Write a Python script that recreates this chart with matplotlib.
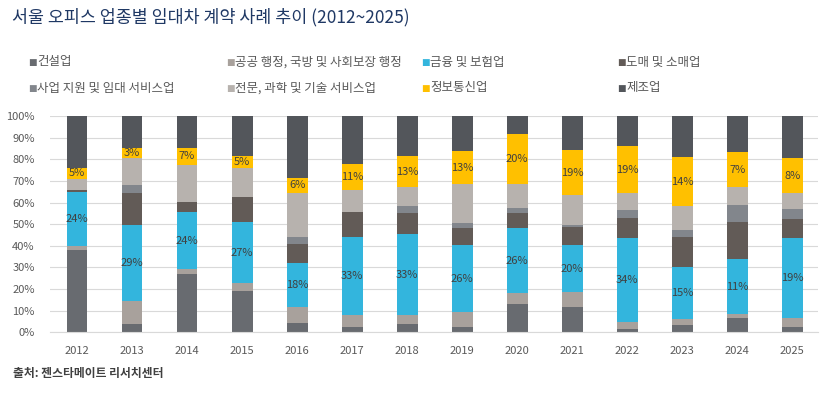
import numpy as np
import matplotlib
matplotlib.use("Agg")
import matplotlib.pyplot as plt

plt.rcParams['font.family'] = ['Noto Sans CJK KR', 'DejaVu Sans']

# Data (share of lease contracts by industry, %)
years = ['2012', '2013', '2014', '2015', '2016', '2017', '2018',
         '2019', '2020', '2021', '2022', '2023', '2024', '2025']
construction = [38.0, 3.7, 26.9, 19.0, 4.2, 2.3, 3.7, 2.3, 13.0, 11.6, 1.4, 3.2, 6.5, 2.3]
public_admin = [1.8, 10.7, 2.3, 3.7, 7.4, 5.6, 4.2, 7.0, 4.9, 6.9, 3.2, 2.8, 1.8, 4.2]
finance = [25.2, 35.1, 26.4, 28.2, 20.3, 36.1, 37.5, 31.0, 30.2, 21.8, 38.9, 24.1, 25.5, 37.0]
retail = [0.9, 14.9, 4.6, 11.6, 8.8, 11.6, 9.7, 7.8, 7.0, 8.3, 9.3, 13.9, 17.1, 8.8]
business_support = [0.0, 3.7, 0.0, 0.0, 3.3, 0.0, 3.2, 2.4, 2.3, 0.9, 3.7, 3.2, 7.9, 4.6]
professional = [5.2, 12.6, 17.4, 13.6, 20.4, 10.3, 8.8, 17.9, 11.0, 13.9, 7.9, 11.1, 8.3, 7.5]
ict = [5.0, 4.6, 7.7, 5.4, 7.1, 11.9, 14.4, 15.4, 23.3, 20.9, 21.7, 22.7, 16.2, 16.2]
manufacturing = [23.9, 14.7, 14.7, 18.5, 28.5, 22.2, 18.5, 16.2, 8.3, 15.7, 13.9, 19.0, 16.7, 19.4]

# labels printed on the chart
finance_labels = [24, 29, 24, 27, 18, 33, 33, 26, 26, 20, 34, 15, 11, 19]
ict_labels = [5, 3, 7, 5, 6, 11, 13, 13, 20, 19, 19, 14, 7, 8]

names = ['건설업', '공공 행정, 국방 및 사회보장 행정', '금융 및 보험업', '도매 및 소매업',
         '사업 지원 및 임대 서비스업', '전문, 과학 및 기술 서비스업', '정보통신업', '제조업']
series = [construction, public_admin, finance, retail,
          business_support, professional, ict, manufacturing]
colors = ['#686b70', '#a8a19c', '#33b5dd', '#625b57',
          '#82868c', '#b7b2ae', '#ffc000', '#53565b']

fig = plt.figure(figsize=(8.35, 3.94), dpi=100)
ax = fig.add_axes([0.0599, 0.157, 0.920, 0.548])

x = np.arange(len(years))
bottom = np.zeros(len(years))
mids = {}
for name, vals, c in zip(names, series, colors):
    vals = np.array(vals)
    ax.bar(x, vals, 0.38, bottom=bottom, color=c, zorder=2)
    mids[name] = bottom + vals / 2
    bottom = bottom + vals

# percentage labels for finance and ICT segments
for i in range(len(years)):
    ax.text(x[i], mids['금융 및 보험업'][i], f'{finance_labels[i]}%', ha='center',
            va='center', fontsize=8, color='#404040', zorder=3)
    ax.text(x[i], mids['정보통신업'][i], f'{ict_labels[i]}%', ha='center',
            va='center', fontsize=8, color='#404040', zorder=3)

ax.set_xlim(-0.49, 13.47)
ax.set_ylim(0, 100)
ax.set_yticks(np.arange(0, 101, 10))
ax.set_yticklabels([f'{v}%' for v in range(0, 101, 10)])
ax.set_xticks(x)
ax.set_xticklabels(years)
ax.tick_params(axis='both', length=0, labelsize=8, colors='#595959')
ax.tick_params(axis='x', pad=10)
ax.tick_params(axis='y', pad=11)
ax.grid(axis='y', color='#d9d9d9', linewidth=0.8, zorder=0)
for s in ['top', 'right', 'left']:
    ax.spines[s].set_visible(False)
ax.spines['bottom'].set_color('#d9d9d9')

# title and source
fig.text(0.014, 0.957, '서울 오피스 업종별 임대차 계약 사례 추이 (2012~2025)',
         fontsize=12.5, color='#1f3864', va='center', ha='left')
fig.text(0.016, 0.053, '출처: 젠스타메이트 리서치센터', fontsize=8.5,
         fontweight='bold', color='#404040', va='center', ha='left')

# legend, 4 columns x 2 rows
col_x = [28, 226, 421, 617]
row_y = [62, 88]
for k, (name, c) in enumerate(zip(names, colors)):
    r, cidx = divmod(k, 4)
    fx = col_x[cidx] / 835
    fy = 1 - row_y[r] / 394
    fig.text(fx, fy, '■', color=c, fontsize=6.5, va='center', ha='left',
             family=['DejaVu Sans'])
    fig.text(fx + 9 / 835, fy, name, color='#595959', fontsize=9,
             va='center', ha='left')

fig.savefig('out.png', dpi=100)
